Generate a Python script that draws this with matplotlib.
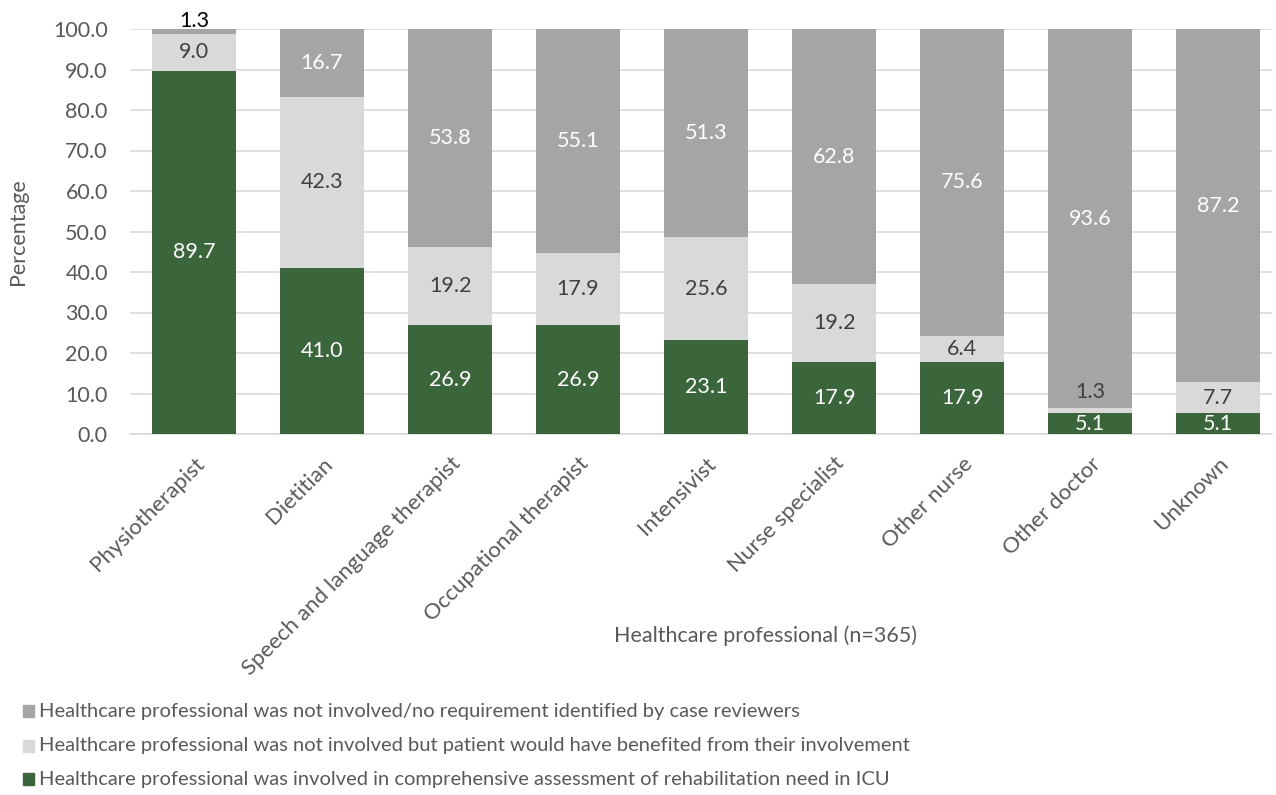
import matplotlib
matplotlib.use("Agg")
import matplotlib.pyplot as plt
from matplotlib.patches import Rectangle

categories = ["Physiotherapist", "Dietitian", "Speech and language therapist",
              "Occupational therapist", "Intensivist", "Nurse specialist",
              "Other nurse", "Other doctor", "Unknown"]
involved = [89.7, 41.0, 26.9, 26.9, 23.1, 17.9, 17.9, 5.1, 5.1]
would_benefit = [9.0, 42.3, 19.2, 17.9, 25.6, 19.2, 6.4, 1.3, 7.7]
not_required = [1.3, 16.7, 53.8, 55.1, 51.3, 62.8, 75.6, 93.6, 87.2]
yticks = [0, 10, 20, 30, 40, 50, 60, 70, 80, 90, 100]

legend_labels = [
    "Healthcare professional was not involved/no requirement identified by case reviewers",
    "Healthcare professional was not involved but patient would have benefited from their involvement",
    "Healthcare professional was involved in comprehensive assessment of rehabilitation need in ICU",
]

GREEN = "#3B653B"
LIGHT = "#D9D9D9"
DARK = "#A5A5A5"
TXT = "#595959"

plt.rcParams['font.family'] = ['Lato', 'DejaVu Sans']

fig = plt.figure(figsize=(12.76, 7.95), dpi=100)
W, H = 1276, 795
ax = fig.add_axes([130 / W, (H - 434) / H, (1272 - 130) / W, (434 - 29) / H])

x = list(range(len(categories)))
bw = 0.66
ax.bar(x, involved, bw, color=GREEN, zorder=3)
bottom2 = involved
ax.bar(x, would_benefit, bw, bottom=bottom2, color=LIGHT, zorder=3)
bottom3 = [a + b for a, b in zip(involved, would_benefit)]
ax.bar(x, not_required, bw, bottom=bottom3, color=DARK, zorder=3)

fs = 15.5
for i in x:
    ax.text(i, involved[i] / 2, f"{involved[i]:.1f}", ha='center', va='center',
            color='white', fontsize=fs, zorder=4)
    if would_benefit[i] < 3:
        ax.text(i, bottom3[i] + 1.5, f"{would_benefit[i]:.1f}", ha='center', va='bottom',
                color='#404040', fontsize=fs, zorder=4)
    else:
        ax.text(i, involved[i] + would_benefit[i] / 2, f"{would_benefit[i]:.1f}",
                ha='center', va='center', color='#404040', fontsize=fs, zorder=4)
    if not_required[i] < 3:
        ax.text(i, 99.6, f"{not_required[i]:.1f}", ha='center', va='bottom',
                color='black', fontsize=fs, zorder=4, clip_on=False)
    else:
        ax.text(i, bottom3[i] + not_required[i] / 2, f"{not_required[i]:.1f}",
                ha='center', va='center', color='white', fontsize=fs, zorder=4)

ax.set_xlim(-0.5, 8.42)
ax.set_ylim(0, 100)
ax.set_yticks(yticks)
ax.set_yticklabels([f"{v:.1f}" for v in yticks], fontsize=15.5, color=TXT)
ax.set_xticks(x)
ax.set_xticklabels(categories, rotation=45, ha='right', rotation_mode='anchor',
                   fontsize=16, color=TXT)
ax.tick_params(axis='both', length=0)
ax.tick_params(axis='y', pad=16)
ax.tick_params(axis='x', pad=14)
ax.grid(axis='y', color='#D9D9D9', lw=1.2, zorder=0)
for s in ['top', 'right', 'left']:
    ax.spines[s].set_visible(False)
ax.spines['bottom'].set_color('#D9D9D9')
ax.spines['bottom'].set_linewidth(1.2)

ax.set_ylabel("Percentage", fontsize=15.5, color=TXT, labelpad=18)
fig.text(765 / W, 1 - 636 / H, "Healthcare professional (n=365)", ha='center',
         va='center', fontsize=15.5, color=TXT)

colors = [DARK, LIGHT, GREEN]
ys = [711, 746, 779]
for lab, c, yy in zip(legend_labels, colors, ys):
    fig.patches.append(Rectangle((23 / W, 1 - (yy + 6) / H), 11 / W, 12 / H,
                                 transform=fig.transFigure, color=c))
    fig.text(39 / W, 1 - yy / H, lab, ha='left', va='center', fontsize=14.5, color=TXT)

fig.savefig("out.png", dpi=100)
